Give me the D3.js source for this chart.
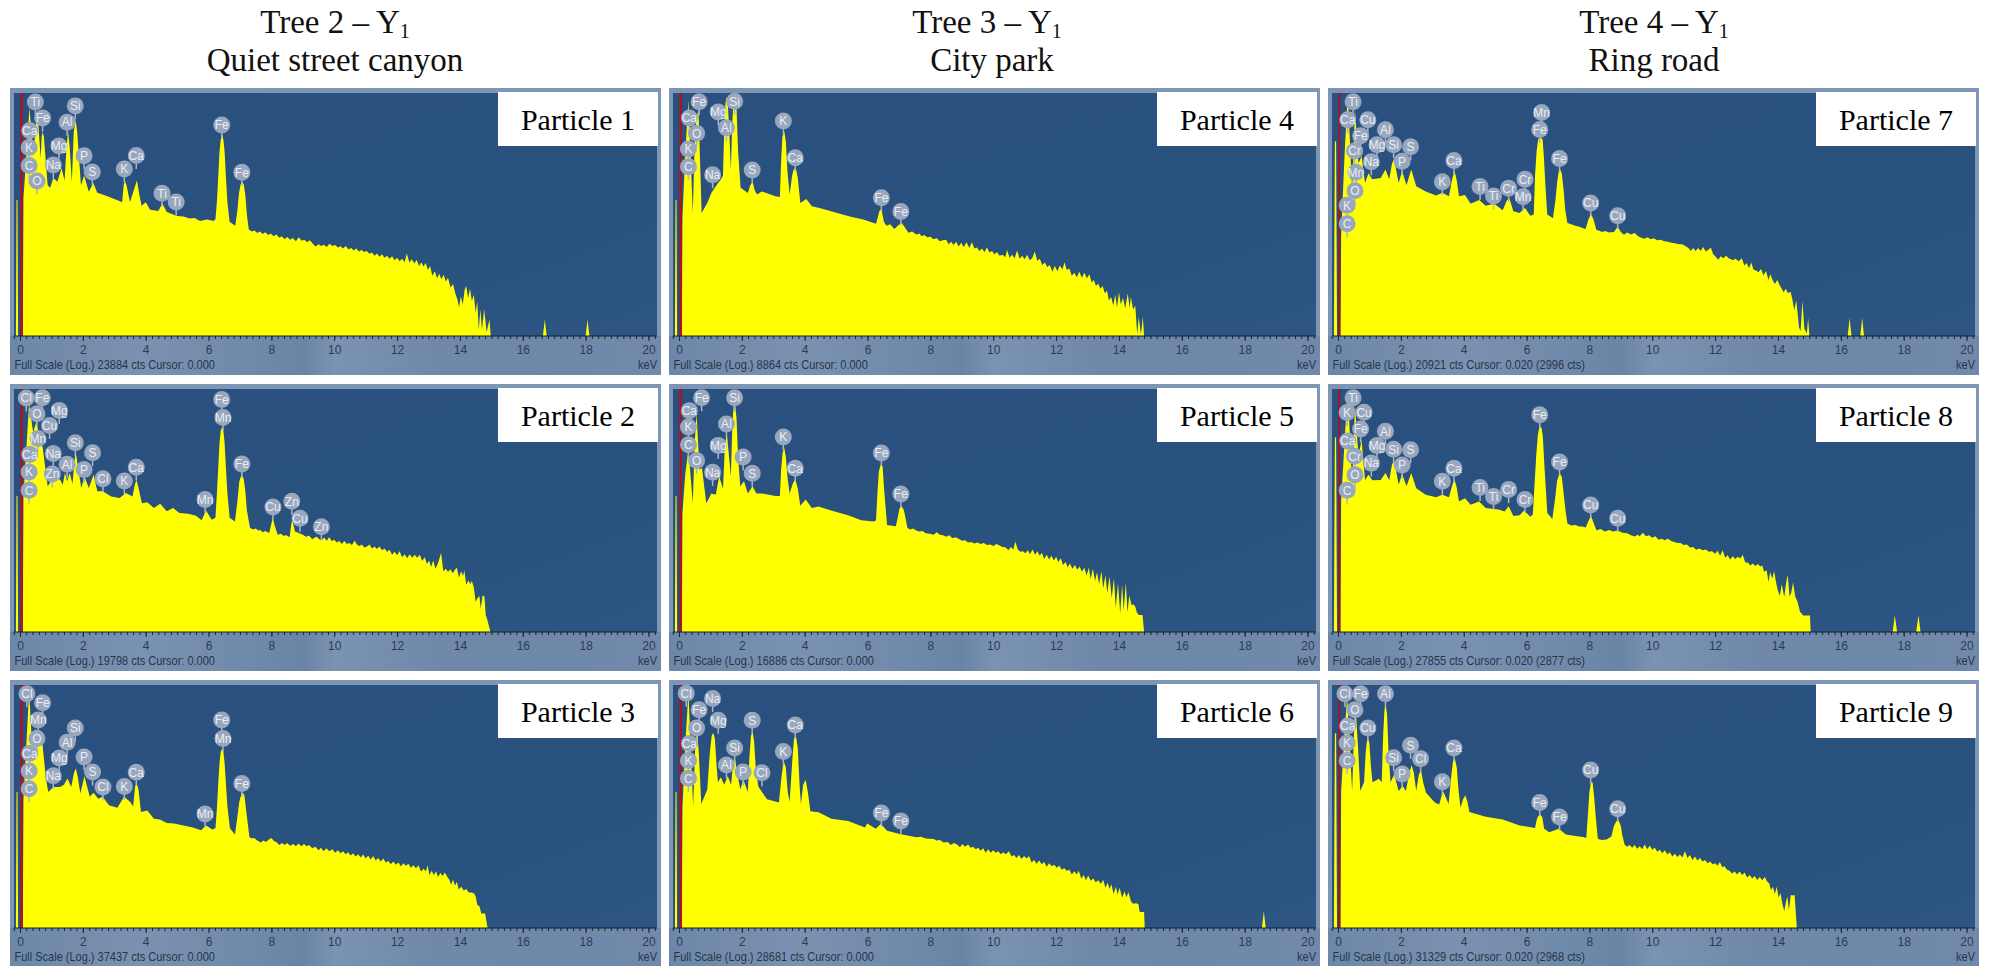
<!DOCTYPE html>
<html>
<head>
<meta charset="utf-8">
<script src="https://cdn.jsdelivr.net/npm/d3@7"></script>
<style>
  body { margin: 0; background: #fff; }
  svg { display: block; }
</style>
</head>
<body>
<div id="chart"></div>
<script>
const width = 1989;
const height = 966;

// site headings, one per column
const treeTitles = ["Tree 2 – Y", "Tree 3 – Y", "Tree 4 – Y"];
const siteTitles = ["Quiet street canyon", "City park", "Ring road"];

const particleNames = ["Particle 1", "Particle 2", "Particle 3", "Particle 4", "Particle 5", "Particle 6", "Particle 7", "Particle 8", "Particle 9"];

const footerTexts = [
  "Full Scale (Log.) 23884 cts Cursor: 0.000",
  "Full Scale (Log.) 19798 cts Cursor: 0.000",
  "Full Scale (Log.) 37437 cts Cursor: 0.000",
  "Full Scale (Log.) 8864 cts Cursor: 0.000",
  "Full Scale (Log.) 16886 cts Cursor: 0.000",
  "Full Scale (Log.) 28681 cts Cursor: 0.000",
  "Full Scale (Log.) 20921 cts Cursor: 0.020  (2996 cts)",
  "Full Scale (Log.) 27855 cts Cursor: 0.020  (2877 cts)",
  "Full Scale (Log.) 31329 cts Cursor: 0.020  (2968 cts)"
];

const keVTicks = [0, 2, 4, 6, 8, 10, 12, 14, 16, 18, 20];
const minorTicks = d3.range(-1, 102).map(i => i / 5);

// spectra: [keV, height on the log display, 0-100 of the plot]
const spectrum1 = [[-0.13,0],[-0.11,56],[-0.08,56],[-0.06,0],[0.09,0],[0.11,57],[0.21,75],[0.3,94],[0.42,74],[0.55,93],[0.66,73],[0.69,82],[0.72,84],[0.76,82],[0.88,62],[0.96,61],[1.06,65],[1.19,63.5],[1.32,69],[1.42,64],[1.48,78],[1.53,84],[1.58,78],[1.65,63.5],[1.71,84],[1.77,89],[1.82,84],[1.94,62],[2.04,66],[2.19,59.4],[2.33,63],[2.46,59],[2.76,57.6],[3.18,55.5],[3.25,55],[3.3,62],[3.34,63.8],[3.39,62],[3.5,55],[3.62,60],[3.72,64],[3.8,58],[3.87,53.6],[4,55],[4.14,52],[4.4,51.4],[4.53,54.5],[4.67,51],[5,49.4],[5.2,49.2],[5.4,48.4],[5.55,48.6],[5.73,47.3],[5.95,47.9],[6.16,47.3],[6.22,48],[6.27,56],[6.31,66],[6.35,76],[6.39,81],[6.43,83],[6.47,81],[6.51,76],[6.55,66],[6.6,55],[6.67,47],[6.85,45.4],[6.92,52],[6.97,59],[7.02,62.5],[7.07,63.4],[7.12,62.5],[7.17,58],[7.22,50],[7.28,43.8],[7.3,43.6],[7.38,43],[7.46,43.4],[7.55,42.4],[7.63,43],[7.72,42],[7.8,42.7],[7.9,41.6],[7.98,42.2],[8.07,41],[8.16,41.8],[8.25,40.4],[8.33,41],[8.42,39.8],[8.5,40.7],[8.6,39.6],[8.68,40.3],[8.78,39],[8.87,40.6],[8.96,39.2],[9.05,39.6],[9.14,38.6],[9.22,39.4],[9.32,38],[9.4,36.8],[9.5,37.8],[9.58,37],[9.67,37.6],[9.76,36.6],[9.85,38],[9.94,37],[10.03,37.5],[10.12,36.4],[10.2,36.9],[10.28,36],[10.37,37],[10.45,35.6],[10.54,36.2],[10.62,35.2],[10.7,36],[10.78,34.8],[10.87,35.4],[10.95,34.6],[11.03,35],[11.12,33.8],[11.2,34.4],[11.28,33],[11.36,34],[11.44,32.6],[11.52,33.6],[11.6,32.2],[11.68,33],[11.76,31.8],[11.84,32.8],[11.92,31.2],[12,32.2],[12.08,30.8],[12.16,31.8],[12.24,30.4],[12.31,34],[12.39,30.2],[12.47,31.6],[12.55,29.8],[12.62,31.4],[12.7,28.8],[12.77,30.4],[12.84,28.6],[12.91,30],[12.98,27.2],[13.05,28.8],[13.12,24.8],[13.2,26.6],[13.27,23.8],[13.34,25.6],[13.41,23.4],[13.48,25.2],[13.55,22.4],[13.62,24],[13.7,20],[13.78,21.4],[13.85,17.6],[13.92,15],[13.97,11.8],[14.03,16.4],[14.09,13],[14.15,19],[14.2,20.6],[14.26,15.6],[14.32,19.4],[14.38,14.4],[14.44,17],[14.5,9.6],[14.55,14.2],[14.6,2.6],[14.65,11],[14.7,2.6],[14.77,11],[14.85,1.6],[14.94,6.8],[14.98,0],[16.64,0],[16.7,6.8],[16.76,0],[18,0],[18.06,6.8],[18.12,0]];

const spectrum2 = [[-0.13,0],[-0.11,56],[-0.08,56],[-0.06,0],[0.09,0],[0.11,55.8],[0.2,75],[0.29,94],[0.42,82],[0.52,86.7],[0.62,80],[0.72,76],[0.8,68],[0.88,60],[0.99,62],[1.15,64],[1.28,62.6],[1.36,60.6],[1.43,65.4],[1.5,62],[1.58,65.4],[1.67,61],[1.75,72],[1.78,73.7],[1.82,70],[1.95,59.3],[2.05,64],[2.19,59.3],[2.34,64.7],[2.46,57.9],[2.63,57.9],[2.9,55.8],[3.17,55.1],[3.37,57.2],[3.58,55.8],[3.66,61],[3.71,62.3],[3.76,60],[3.88,53],[4.05,53.4],[4.26,51],[4.46,52.8],[4.67,49.7],[4.87,51],[5.07,49],[5.35,48.7],[5.6,47.8],[5.78,46],[5.92,50],[6.1,46.2],[6.22,47],[6.27,58],[6.31,68],[6.35,78],[6.39,83],[6.43,84.4],[6.47,83],[6.51,78],[6.55,68],[6.6,57],[6.67,47],[6.84,45.5],[6.92,54],[6.98,62],[7.03,64],[7.07,64.4],[7.12,63],[7.17,58],[7.22,50],[7.32,42.8],[7.42,42.2],[7.5,42.6],[7.58,41.8],[7.65,42],[7.72,41],[7.8,41.6],[7.93,40.7],[7.99,44],[8.04,47],[8.1,44],[8.2,40],[8.3,40.4],[8.38,39.6],[8.48,39.8],[8.58,39],[8.63,44],[8.66,46.2],[8.75,41.4],[8.85,40.8],[9,40],[9.1,39.2],[9.2,39.6],[9.3,38.2],[9.38,38.9],[9.45,39.2],[9.52,38.2],[9.6,37.8],[9.68,38.9],[9.76,37.6],[9.84,39],[9.92,37.4],[10,38],[10.08,36.8],[10.16,37.4],[10.24,36.2],[10.32,37.4],[10.4,36.2],[10.48,36.6],[10.56,35.8],[10.65,37.6],[10.72,36],[10.8,35.4],[10.88,36],[10.96,34.8],[11.04,35.2],[11.12,36],[11.2,34.4],[11.28,35.2],[11.36,34.2],[11.44,35.2],[11.52,33.6],[11.6,34.4],[11.68,33],[11.76,33.8],[11.84,31.8],[11.92,33],[12,31.6],[12.08,33.2],[12.16,30.8],[12.24,32],[12.32,30.4],[12.4,32],[12.48,30.6],[12.56,31.8],[12.64,30.6],[12.72,31.8],[12.8,29.2],[12.88,30.8],[12.95,28],[13.02,29.4],[13.08,26.8],[13.15,29.4],[13.22,26],[13.3,28.2],[13.4,32.6],[13.47,25],[13.55,26],[13.62,24.8],[13.7,25.8],[13.77,24.2],[13.84,25.6],[13.9,26.4],[13.97,22.4],[14.04,25],[14.1,23],[14.14,25.4],[14.2,19.4],[14.27,21.2],[14.33,19.8],[14.38,21],[14.44,18.4],[14.5,12.4],[14.56,14],[14.62,14.8],[14.66,9.6],[14.72,15],[14.78,14.6],[14.82,7],[14.87,5],[14.97,0]];

const spectrum3 = [[-0.13,0],[-0.11,56],[-0.08,56],[-0.06,0],[0.09,0],[0.11,52.5],[0.2,75],[0.29,97],[0.38,76],[0.5,82],[0.6,78],[0.72,75],[0.82,62],[0.9,56],[1.06,58],[1.27,58],[1.4,59],[1.51,61.5],[1.63,58],[1.72,64],[1.78,65.6],[1.84,62],[1.92,55.3],[2.05,62.4],[2.22,54],[2.34,55.7],[2.49,53.2],[2.63,54],[2.83,50.5],[3.1,49.5],[3.31,54],[3.51,51.9],[3.6,50],[3.66,58],[3.71,59.8],[3.77,57],[3.85,47.7],[4.05,48.4],[4.26,45],[4.45,44.6],[4.67,43.2],[4.9,43],[5.2,42.2],[5.5,41.4],[5.76,40.2],[5.92,42.2],[6.12,40.5],[6.22,41],[6.27,50],[6.31,60],[6.35,68],[6.39,72.6],[6.43,73.8],[6.47,72.6],[6.51,68],[6.55,60],[6.6,50],[6.68,41],[6.84,38.5],[6.92,46],[6.98,52],[7.04,55],[7.09,55.7],[7.14,54.6],[7.2,48],[7.3,37.4],[7.38,36.8],[7.45,37],[7.55,36],[7.66,35.2],[7.75,36],[7.83,35.4],[7.92,36.4],[8,37],[8.08,35.8],[8.16,35.4],[8.25,34.2],[8.34,35],[8.42,34.2],[8.5,35],[8.6,33.8],[8.7,34.6],[8.78,33.6],[8.86,34.8],[8.95,33.6],[9.04,34.6],[9.12,33.6],[9.2,34.2],[9.3,32.8],[9.4,33.4],[9.5,32],[9.58,33],[9.66,31.6],[9.75,32.8],[9.84,31.6],[9.94,32.4],[10.03,31],[10.12,32],[10.2,30.8],[10.28,31.6],[10.36,30.4],[10.44,31.2],[10.52,29.8],[10.6,30.8],[10.68,29.4],[10.76,30.4],[10.84,29],[10.92,30.2],[11,28.6],[11.08,29.8],[11.16,28.2],[11.24,29.6],[11.32,27.8],[11.4,28.8],[11.48,27.4],[11.56,28.6],[11.64,27],[11.72,27.6],[11.8,26.2],[11.88,27.4],[11.96,26],[12.04,27],[12.12,25.4],[12.2,26.6],[12.28,25.6],[12.36,26.4],[12.44,24.8],[12.52,25.8],[12.6,24.6],[12.68,25.8],[12.76,23.2],[12.84,24.4],[12.92,23.4],[12.97,25.8],[13.03,21.8],[13.1,23.6],[13.17,21.8],[13.24,23.4],[13.3,21],[13.38,22.6],[13.45,21.4],[13.52,22.8],[13.6,21],[13.66,20],[13.72,17.8],[13.78,20],[13.84,17.4],[13.9,19],[13.96,15.8],[14.04,17],[14.12,15.4],[14.2,16],[14.28,14.6],[14.36,14.6],[14.45,14.2],[14.5,13],[14.55,9.6],[14.62,9],[14.68,6],[14.8,6],[14.88,0]];

const spectrum4 = [[-0.13,0],[-0.11,56],[-0.08,56],[-0.06,0],[0.09,0],[0.11,49],[0.2,75],[0.3,97],[0.44,50.6],[0.5,80],[0.56,90],[0.62,93],[0.67,72],[0.72,50.6],[0.9,54.7],[1.03,58.8],[1.24,63],[1.33,64.3],[1.4,66],[1.44,85],[1.48,96],[1.52,98.6],[1.56,94],[1.6,84],[1.65,68.4],[1.69,86],[1.73,96],[1.78,98.6],[1.83,94],[1.88,76],[1.96,61],[2.19,58.8],[2.27,62],[2.34,63.6],[2.41,60],[2.48,58.2],[2.64,59.5],[3.07,57.5],[3.21,57.2],[3.25,72],[3.29,82],[3.35,84.2],[3.4,80],[3.45,68],[3.52,58.2],[3.6,66],[3.65,68.6],[3.72,69],[3.78,65],[3.86,54.7],[4.05,56.4],[4.23,53.4],[4.5,52.6],[4.84,51.3],[5.2,50],[5.5,49],[5.86,47.9],[6.27,46.2],[6.38,51.4],[6.44,52.4],[6.52,47],[6.6,45.4],[6.72,46],[6.85,44],[7.0,45.8],[7.09,46.5],[7.3,42.5],[7.42,43],[7.55,41.8],[7.65,42.2],[7.72,41],[7.8,41.6],[7.9,40.6],[8,40.8],[8.1,39.8],[8.2,40.2],[8.3,39],[8.4,39.4],[8.5,39.6],[8.58,37.8],[8.66,38.8],[8.74,37.4],[8.82,38.8],[8.9,36.8],[8.98,38.4],[9.06,36.6],[9.15,38.6],[9.24,36.2],[9.32,38.6],[9.4,36],[9.48,36.4],[9.56,35],[9.64,36],[9.72,34.6],[9.8,36.4],[9.88,34.4],[9.96,35],[10.04,33.6],[10.12,34.6],[10.2,33],[10.3,33.4],[10.38,32.4],[10.44,35.4],[10.52,32.2],[10.6,33.4],[10.68,32],[10.76,35.2],[10.84,31.8],[10.92,33],[11,31.6],[11.08,33.4],[11.16,31.2],[11.24,32],[11.32,34.8],[11.4,31],[11.48,31.8],[11.56,29.2],[11.64,30.2],[11.72,28.4],[11.8,29.2],[11.88,26.4],[11.96,28.8],[12.04,26.6],[12.12,29],[12.2,27.4],[12.27,30.4],[12.34,27.2],[12.42,27.8],[12.5,24.8],[12.58,26],[12.66,24.2],[12.74,26.4],[12.82,24],[12.9,26],[12.98,23.8],[13.06,25.4],[13.13,22],[13.2,23],[13.27,20.6],[13.34,21.6],[13.41,19.4],[13.48,20.6],[13.55,17.6],[13.62,18.6],[13.68,14.6],[13.75,16],[13.82,12.6],[13.88,17],[13.94,11.8],[14,18],[14.06,13],[14.13,15.6],[14.2,11.4],[14.28,17.6],[14.34,11.6],[14.38,16],[14.45,11],[14.52,12.4],[14.58,0.6],[14.63,7.8],[14.7,0.6],[14.76,7.8],[14.8,0]];

const spectrum5 = [[-0.13,0],[-0.11,56],[-0.08,56],[-0.06,0],[0.09,0],[0.11,49],[0.2,65],[0.3,75],[0.44,53],[0.5,78],[0.56,90],[0.65,66.8],[0.73,67.5],[0.87,53],[1.03,57],[1.17,56.5],[1.28,64],[1.4,59],[1.46,76],[1.52,82],[1.58,74],[1.65,64],[1.7,86],[1.74,93],[1.78,94],[1.83,88],[1.88,72],[1.95,60],[2.07,62],[2.19,57],[2.34,60],[2.46,57],[2.65,57],[3.07,56],[3.21,56],[3.25,67],[3.3,74],[3.35,75.7],[3.4,72],[3.45,64],[3.52,57],[3.62,61],[3.7,63],[3.78,59],[3.86,52],[4.03,54.5],[4.23,51],[4.44,51.6],[4.84,50],[5.38,48],[5.8,46],[6.2,45.5],[6.27,46],[6.31,56],[6.36,66],[6.41,68.6],[6.44,69],[6.48,68],[6.52,60],[6.62,44],[6.9,43.5],[6.96,47],[7.02,51],[7.09,51.7],[7.16,50],[7.27,42.8],[7.36,42.2],[7.45,42.6],[7.55,41.8],[7.65,41.4],[7.75,41.6],[7.85,40.6],[7.98,40.4],[8.1,40],[8.2,41],[8.3,40],[8.4,39.8],[8.5,39.2],[8.6,39.8],[8.7,38.6],[8.8,39],[8.9,38.4],[9,37.6],[9.1,37.8],[9.2,36.8],[9.3,37],[9.4,36.4],[9.5,36.8],[9.6,36.2],[9.7,36.6],[9.8,35.8],[9.9,36],[10,35.4],[10.1,36.2],[10.2,35.6],[10.3,35],[10.4,34.8],[10.48,33.6],[10.56,35],[10.64,34],[10.7,37.2],[10.78,34],[10.86,33],[10.94,33.2],[11.02,32.4],[11.1,33.6],[11.17,32],[11.25,34],[11.33,31.8],[11.4,33.2],[11.48,31.4],[11.55,32.6],[11.62,30],[11.7,31.8],[11.78,29.8],[11.85,31.4],[11.93,29.4],[12,31],[12.07,28.8],[12.15,30.4],[12.22,27.6],[12.3,28.8],[12.37,26.6],[12.44,28.2],[12.52,26],[12.6,27.6],[12.67,25.6],[12.75,27],[12.82,24.8],[12.9,26.4],[12.97,23.2],[13.04,26.4],[13.1,21.8],[13.17,26],[13.24,21],[13.3,24.6],[13.37,19.8],[13.44,25],[13.5,18],[13.57,23.4],[13.63,16],[13.7,22.8],[13.77,14],[13.84,22],[13.9,10],[13.97,20],[14.04,7.6],[14.1,19.4],[14.15,9],[14.22,20.4],[14.27,8],[14.33,15],[14.4,11],[14.46,11.4],[14.52,10.4],[14.57,8],[14.63,7],[14.75,7],[14.8,0]];

const spectrum6 = [[-0.13,0],[-0.11,56],[-0.08,56],[-0.06,0],[0.09,0],[0.11,49.5],[0.2,75],[0.3,97],[0.45,50],[0.52,76],[0.57,83],[0.63,72],[0.71,51],[0.9,57],[0.98,72],[1.04,79],[1.09,80.4],[1.14,78],[1.2,66],[1.24,60],[1.33,62],[1.44,59],[1.55,62.5],[1.66,59],[1.72,68],[1.78,70],[1.85,64],[1.95,57],[2.05,61],[2.19,56],[2.24,70],[2.29,79],[2.34,81],[2.39,77],[2.45,64],[2.53,58],[2.8,53],[3.18,51.6],[3.26,62],[3.31,67],[3.35,68],[3.4,66],[3.46,56],[3.52,52],[3.6,68],[3.66,78],[3.72,79],[3.78,74],[3.84,58],[3.88,51],[3.95,59],[4.03,61],[4.1,56],[4.18,48],[4.44,47.6],[4.85,45],[5.38,44],[5.92,41.4],[5.99,43],[6.26,40.8],[6.42,42.8],[6.62,40],[7.02,38.7],[7.3,38],[7.56,37.3],[7.7,37.6],[7.85,36.8],[8.1,36.6],[8.2,36],[8.3,36.2],[8.42,35.2],[8.55,35.4],[8.65,34.2],[8.75,35],[8.85,34.4],[8.94,33.2],[9.02,34.6],[9.1,33.4],[9.2,34.4],[9.28,33],[9.36,33.4],[9.44,32.4],[9.52,33],[9.6,31.8],[9.68,32.8],[9.76,31],[9.84,32.4],[9.92,31],[10,32],[10.08,31],[10.16,31.6],[10.24,30.4],[10.32,31.2],[10.4,30.4],[10.5,31.6],[10.58,29.4],[10.66,30],[10.74,28.8],[10.82,30],[10.9,28.4],[10.98,29.6],[11.06,28.6],[11.14,29.6],[11.22,27],[11.3,28],[11.38,26.4],[11.46,27.8],[11.54,26.2],[11.62,27.2],[11.7,25.2],[11.78,26.6],[11.86,25.4],[11.94,26],[12.02,24.8],[12.1,25.6],[12.18,24],[12.26,24.6],[12.34,23.6],[12.42,24],[12.5,22],[12.58,23.4],[12.66,22],[12.72,23.6],[12.8,20.4],[12.88,21.8],[12.95,19.6],[13.02,21.6],[13.1,19.4],[13.18,20.4],[13.26,18.8],[13.34,19.6],[13.42,18.2],[13.5,19.8],[13.57,16.6],[13.64,18.6],[13.7,16],[13.76,18],[13.83,14],[13.9,17],[13.96,13.8],[14.02,16.6],[14.1,12.6],[14.18,15],[14.24,12.6],[14.3,14.8],[14.38,11],[14.45,10],[14.55,10.2],[14.62,9.8],[14.66,6.6],[14.8,6.6],[14.82,0],[18.55,0],[18.61,6.9],[18.67,0]];

const spectrum7 = [[-0.13,0],[-0.1,80],[-0.06,80],[-0.03,0],[0.08,0],[0.1,41],[0.2,72],[0.31,100],[0.45,60],[0.54,93],[0.65,71],[0.75,74],[0.86,63],[0.97,67],[1.09,64.5],[1.36,65],[1.51,68.5],[1.63,64.5],[1.72,71],[1.78,72.6],[1.84,69],[1.93,63],[2.04,67.8],[2.18,62],[2.33,68.5],[2.49,61.6],[2.79,59.5],[3.12,57.8],[3.32,59],[3.53,57.5],[3.64,65],[3.71,67.8],[3.78,64],[3.85,57.5],[4.04,58],[4.22,54.4],[4.49,56],[4.7,53.6],[4.97,54.4],[5.24,51.7],[5.38,56],[5.46,56.4],[5.58,51.3],[5.78,50.6],[5.95,52.7],[6.12,49.5],[6.23,50],[6.27,66],[6.32,76],[6.37,81],[6.44,81.6],[6.51,81],[6.55,74],[6.6,62],[6.66,50],[6.84,48.5],[6.92,56],[6.98,64],[7.03,68],[7.07,68.5],[7.12,67],[7.18,60],[7.23,52],[7.3,46.5],[7.42,46],[7.55,45.4],[7.68,45],[7.78,44.4],[7.88,44],[7.97,48],[8.05,50.2],[8.13,48],[8.22,43.6],[8.3,43.4],[8.4,42.8],[8.5,43.2],[8.63,42.6],[8.78,42.8],[8.9,45],[9,42.8],[9.1,41.7],[9.2,42.6],[9.32,41.8],[9.44,42.4],[9.55,41],[9.65,40.4],[9.75,40],[9.85,40.6],[9.95,39.8],[10.05,40.2],[10.15,39.4],[10.27,39.6],[10.38,39],[10.5,38.8],[10.6,38.4],[10.72,38.2],[10.85,37.8],[10.95,37.8],[11.05,37],[11.15,36.2],[11.23,35],[11.3,36.2],[11.38,35],[11.46,36.2],[11.54,35],[11.62,36.6],[11.7,34.8],[11.78,35.4],[11.86,36.4],[11.94,33.6],[12.02,32.6],[12.1,31.4],[12.18,32.8],[12.26,32],[12.35,33],[12.43,32],[12.5,31.6],[12.57,31.2],[12.65,31.8],[12.75,30.8],[12.85,32],[12.93,29],[13,30],[13.08,28],[13.15,30.2],[13.22,27.4],[13.3,27],[13.38,26.2],[13.46,27.6],[13.54,25],[13.62,26.8],[13.7,23],[13.76,25.4],[13.82,23.4],[13.9,21.4],[13.98,23],[14.05,21],[14.12,19.4],[14.18,18],[14.25,19.4],[14.32,17.6],[14.4,18.2],[14.46,15],[14.52,10.6],[14.58,14.6],[14.63,9],[14.67,3.6],[14.72,2],[14.78,14.4],[14.84,3],[14.92,1],[14.96,7.4],[15,0],[16.22,0],[16.28,7.4],[16.34,0],[16.62,0],[16.68,7.4],[16.74,0]];

const spectrum8 = [[-0.13,0],[-0.1,80],[-0.06,80],[-0.03,0],[0.08,0],[0.1,54],[0.2,76],[0.31,100],[0.45,60.4],[0.54,93.5],[0.65,72],[0.75,79],[0.86,62.6],[0.97,64.7],[1.09,62.4],[1.36,62.6],[1.51,65.4],[1.63,62.4],[1.72,69],[1.78,70.2],[1.84,67],[1.93,60.6],[2.04,65],[2.18,60],[2.33,65.4],[2.49,59.2],[2.79,56.5],[3.12,55.5],[3.32,56.5],[3.53,55.5],[3.65,61],[3.71,62.6],[3.77,60],[3.85,53.7],[4.04,55],[4.22,52.4],[4.49,53.7],[4.7,51],[5.1,50.4],[5.3,49.6],[5.43,51.7],[5.58,47.7],[5.78,48],[5.92,50],[6.12,47.4],[6.2,48.4],[6.26,62],[6.31,73],[6.36,81],[6.4,84],[6.44,84.6],[6.48,84],[6.52,80],[6.57,68],[6.66,49],[6.82,46.5],[6.91,55],[6.97,62],[7.03,64.6],[7.07,64.9],[7.12,64],[7.18,57],[7.24,50],[7.3,44.6],[7.42,43.8],[7.55,44],[7.68,43.4],[7.78,43.4],[7.88,43],[7.97,45.6],[8.05,47.8],[8.13,45],[8.23,41.8],[8.35,42.4],[8.5,41.4],[8.63,42],[8.75,41.4],[8.9,41.8],[9.05,40.8],[9.2,40.6],[9.32,39.8],[9.45,39.3],[9.53,40],[9.6,39.4],[9.7,40.8],[9.8,39.4],[9.9,39.8],[10,38.8],[10.1,39.4],[10.2,38],[10.3,38.4],[10.4,37.8],[10.5,38.4],[10.6,37.4],[10.7,37],[10.8,36.6],[10.9,36.6],[11,35.8],[11.1,36],[11.2,34.8],[11.3,35],[11.4,33.8],[11.5,34.4],[11.6,33.6],[11.7,34],[11.8,33],[11.9,33.2],[12,32.2],[12.08,33.4],[12.16,31.4],[12.24,33.6],[12.32,30.6],[12.4,31.6],[12.48,29.8],[12.56,31.2],[12.64,30],[12.72,31],[12.8,30.2],[12.88,31.8],[12.96,28.6],[13.04,28.6],[13.12,27.4],[13.2,28.2],[13.28,27.2],[13.36,28],[13.44,27],[13.5,27.4],[13.56,24.8],[13.64,25.4],[13.7,20.6],[13.75,24.6],[13.82,22],[13.88,25],[13.94,20.4],[14,17],[14.06,14.8],[14.12,19.6],[14.2,14.4],[14.26,20.2],[14.31,23.6],[14.37,14.6],[14.42,16],[14.48,20.4],[14.55,14.6],[14.62,12.6],[14.7,8.4],[14.8,6.8],[15.02,6.8],[15.04,0],[17.65,0],[17.72,6.8],[17.79,0],[18.4,0],[18.47,6.8],[18.54,0]];

const spectrum9 = [[-0.13,0],[-0.1,80],[-0.06,80],[-0.03,0],[0.08,0],[0.1,56.4],[0.2,78],[0.29,95.6],[0.45,56.4],[0.52,84],[0.57,88.6],[0.63,76],[0.71,56.4],[0.83,60],[0.88,72],[0.92,77],[0.96,78],[1,76],[1.05,66],[1.1,60],[1.3,61.4],[1.39,60],[1.44,80],[1.48,90],[1.52,92],[1.56,88],[1.61,72],[1.67,60],[1.79,63.2],[1.93,56.4],[2.06,58.4],[2.16,56.4],[2.27,64],[2.34,67],[2.41,64],[2.49,56.4],[2.57,63],[2.64,65],[2.71,60],[2.8,55.7],[3.08,51.6],[3.22,50.8],[3.31,55],[3.36,56],[3.42,54],[3.52,51],[3.6,62],[3.66,68.6],[3.72,69.7],[3.78,66],[3.84,56],[3.9,49.5],[3.98,53],[4.05,54.6],[4.12,52],[4.18,47.7],[4.7,45.8],[5.24,44.7],[5.78,42.2],[6.27,41.2],[6.33,45],[6.42,47],[6.5,45.6],[6.56,40.8],[6.72,39.4],[7.03,40.8],[7.25,38.5],[7.5,38],[7.79,37.5],[7.9,37],[7.95,46],[8,56],[8.05,60],[8.1,60],[8.15,54],[8.2,46],[8.27,36.6],[8.4,36.2],[8.55,36.4],[8.7,37.7],[8.78,42],[8.86,44],[8.93,44.3],[9,42],[9.05,38],[9.12,34.4],[9.2,33.4],[9.28,34.2],[9.36,33],[9.44,34.2],[9.52,32.6],[9.6,33.6],[9.68,32.4],[9.76,34.4],[9.84,32.4],[9.92,33.8],[10,32.2],[10.08,33],[10.16,31.4],[10.24,32.2],[10.32,30.8],[10.4,32],[10.48,30.2],[10.56,31.2],[10.64,29.4],[10.72,30.6],[10.8,29.2],[10.88,30.2],[10.96,29],[11.04,31.6],[11.12,28.8],[11.2,30],[11.28,28],[11.36,29.4],[11.44,27.8],[11.52,28.8],[11.6,27.4],[11.68,28],[11.76,26.6],[11.84,27.4],[11.92,26.2],[12,26.6],[12.08,25.6],[12.15,27.2],[12.23,25],[12.3,25.4],[12.38,24],[12.46,23.6],[12.54,22.4],[12.62,23.2],[12.7,22],[12.78,23.2],[12.86,21.8],[12.94,22.8],[13.02,20.8],[13.1,21.8],[13.18,20.4],[13.26,21.4],[13.34,19.8],[13.42,21],[13.5,19.6],[13.58,21],[13.66,19],[13.72,18.4],[13.78,15.6],[13.84,17],[13.9,14],[13.96,17],[14.02,12.4],[14.08,14.4],[14.14,10],[14.2,7],[14.26,11],[14.3,13],[14.35,7.4],[14.41,13.6],[14.46,13.4],[14.53,13.6],[14.6,0]];

// element bubbles: [element, keV, height of bubble centre]
const labels1 = [["Ti",.49,96.3],["Fe",.72,89.7],["Ca",.31,84.6],["K",.29,77.6],["C",.29,70.2],["O",.54,63.8],["Si",1.76,94.7],["Al",1.5,88],["Mg",1.24,78.2],["Na",1.06,70.4],["P",2.04,74.2],["S",2.3,67.5],["K",3.32,68.7],["Ca",3.7,74.3],["Ti",4.52,58.7],["Ti",4.97,55.1],["Fe",6.42,86.8],["Fe",7.06,67.4]];
const labels2 = [["Cl",.2,96.3],["Fe",.71,96.4],["O",.54,89.8],["Mg",1.25,91.2],["Cu",.94,85],["Mn",.57,79.6],["Si",1.76,77.9],["Ca",.31,73.1],["Na",1.06,73.5],["S",2.31,73.8],["Al",1.5,69],["P",2.04,66.9],["K",.29,65.8],["Zn",1.03,65],["Cl",2.64,63.1],["Ca",3.7,67.8],["K",3.32,62.1],["C",.29,58.3],["Fe",6.42,95.7],["Mn",6.46,88.3],["Fe",7.06,69.1],["Mn",5.89,54.5],["Cu",8.05,51.4],["Zn",8.65,53.8],["Cu",8.91,46.8],["Zn",9.59,43.3]];
const labels3 = [["Cl",.22,96.4],["Fe",.72,92.7],["Mn",.58,85.6],["O",.54,78],["Si",1.76,82.3],["Al",1.5,76.4],["Ca",.31,71.9],["Mg",1.25,70],["P",2.04,70.4],["K",.29,64.6],["S",2.31,64.2],["Na",1.06,62.7],["C",.29,57.3],["Cl",2.64,58],["K",3.32,58.2],["Ca",3.7,64.1],["Fe",6.42,85.6],["Mn",6.46,78],["Fe",7.06,59.5],["Mn",5.89,46.9]];
const labels4 = [["Fe",.64,96.4],["Si",1.77,96.6],["Mg",1.25,92.2],["Ca",.33,89.7],["Al",1.51,85.7],["O",.56,83.4],["K",3.32,88.5],["K",.3,77],["Ca",3.7,73.4],["C",.3,69.7],["S",2.33,68.3],["Na",1.07,66.4],["Fe",6.44,56.9],["Fe",7.06,51.2]];
const labels5 = [["Fe",.72,96.4],["Si",1.77,96.4],["Ca",.33,91.1],["K",.3,84.4],["Al",1.51,85.6],["K",3.32,80.2],["C",.3,77.1],["Mg",1.25,76.8],["Fe",6.44,73.7],["P",2.04,72],["O",.56,70.6],["Ca",3.7,67.4],["Na",1.07,65.7],["S",2.33,65.3],["Fe",7.06,56.8]];
const labels6 = [["Cl",.23,96.6],["Na",1.07,94.4],["Fe",.64,89.8],["Mg",1.25,85.5],["S",2.33,85.5],["Ca",3.7,83.5],["O",.56,82.3],["Ca",.33,75.9],["Si",1.77,74.1],["K",3.32,72.6],["K",.3,68.9],["Al",1.51,67.1],["Cl",2.64,63.9],["P",2.04,64.2],["C",.3,61.6],["Fe",6.44,47.3],["Fe",7.06,44]];
const labels7 = [["Ti",.48,96.4],["Mn",6.48,92],["Ca",.31,89],["Cu",.95,89],["Al",1.51,84.9],["Fe",6.42,85],["Fe",.72,82.4],["Mg",1.24,78.7],["Si",1.77,78.7],["S",2.31,77.9],["Cr",.53,76.1],["Fe",7.05,73],["Ca",3.69,72.2],["P",2.04,71.9],["Na",1.06,71.7],["Mn",.57,67.4],["K",3.32,63.5],["Cr",5.95,64.5],["Ti",4.52,61.5],["Cr",5.43,60.8],["Ti",4.95,57.6],["Mn",5.89,57.3],["O",.54,59.8],["K",.29,53.8],["Cu",8.04,54.7],["Cu",8.9,49.5],["C",.29,46.2]];
const labels8 = [["Ti",.48,96.4],["K",.29,90.3],["Cu",.83,90.4],["Fe",6.42,89.4],["Fe",.72,83.5],["Al",1.51,82.6],["Ca",.31,78.6],["Mg",1.24,76.7],["Si",1.77,75.2],["S",2.31,75],["Cr",.53,72.3],["Fe",7.05,70],["P",2.04,68.7],["Na",1.06,69.5],["Ca",3.69,67.4],["O",.54,64.7],["K",3.32,62],["Ti",4.52,59.5],["Cr",5.43,58.6],["C",.29,58.3],["Ti",4.95,55.8],["Cr",5.95,54.5],["Cu",8.04,52.3],["Cu",8.9,46.8]];
const labels9 = [["Cl",.22,96.4],["Fe",.72,96.4],["Al",1.51,96.4],["O",.54,89.8],["Ca",.31,83.1],["Cu",.95,82.3],["K",.29,76.1],["S",2.31,75.2],["Ca",3.69,74.1],["Si",1.77,70.1],["Cl",2.63,69.7],["C",.29,68.9],["P",2.04,63.4],["K",3.32,60.2],["Cu",8.04,65],["Fe",6.42,51.6],["Cu",8.9,49.1],["Fe",7.05,45.7]];

const spectra = [spectrum1, spectrum2, spectrum3, spectrum4, spectrum5, spectrum6, spectrum7, spectrum8, spectrum9];
const bubbles = [labels1, labels2, labels3, labels4, labels5, labels6, labels7, labels8, labels9];

const colLeft = [10, 669, 1328];
const rowTop = [88, 384, 680];
const panelW = 651;
const panelH = 287;
const baseline = 248;   // axis line, measured from panel top
const plotTop = 5;
const condense = 0.88;  // the source's small labels are narrower than Liberation Sans

const sans = "'Liberation Sans', Arial, sans-serif";
const serif = "'Liberation Serif', 'Times New Roman', serif";

const svg = d3.select("#chart").append("svg")
  .attr("width", width)
  .attr("height", height);

const defs = svg.append("defs");

const plotGrad = defs.append("linearGradient").attr("id", "plotBg")
  .attr("x1", 0).attr("y1", 0).attr("x2", 1).attr("y2", 1);
plotGrad.append("stop").attr("offset", "0%").attr("stop-color", "#29507e");
plotGrad.append("stop").attr("offset", "70%").attr("stop-color", "#2a527f");
plotGrad.append("stop").attr("offset", "100%").attr("stop-color", "#2d5684");

const stripGrad = defs.append("linearGradient").attr("id", "stripBg");
[["0%", "#6d87a8"], ["20%", "#7a92b1"], ["38%", "#6f89aa"], ["45%", "#6a84a6"], ["50%", "#7b93b2"], ["65%", "#7089aa"], ["80%", "#6e88a9"], ["100%", "#718aab"]]
  .forEach(s => stripGrad.append("stop").attr("offset", s[0]).attr("stop-color", s[1]));

// the source is a soft raster, so the marks get a slight blur
defs.append("filter").attr("id", "soft")
  .attr("x", "-2%").attr("y", "-2%").attr("width", "104%").attr("height", "104%")
  .append("feGaussianBlur").attr("stdDeviation", 0.5);

// headings
treeTitles.forEach((t, i) => {
  const head = svg.append("text")
    .attr("x", [335, 987, 1654][i])
    .attr("y", 33)
    .attr("text-anchor", "middle")
    .attr("font-family", serif)
    .attr("font-size", 33)
    .attr("fill", "#111");
  head.append("tspan").text(t);
  head.append("tspan").attr("font-size", 20).attr("dy", 5).text("1");
  svg.append("text")
    .attr("x", [335, 992, 1654][i])
    .attr("y", 71)
    .attr("text-anchor", "middle")
    .attr("font-family", serif)
    .attr("font-size", 33)
    .attr("fill", "#111")
    .text(siteTitles[i]);
});

spectra.forEach((spectrum, idx) => {
  const col = Math.floor(idx / 3);
  const row = idx % 3;
  const g = svg.append("g").attr("transform", `translate(${colLeft[col]},${rowTop[row]})`);

  const x = d3.scaleLinear().domain([0, 20]).range([10, 638.5]);
  const y = d3.scaleLinear().domain([0, 100]).range([baseline, baseline - 243]);

  g.append("rect").attr("width", panelW).attr("height", panelH).attr("fill", "#7e96b5");
  g.append("rect").attr("y", baseline).attr("width", panelW).attr("height", panelH - baseline).attr("fill", "url(#stripBg)");
  g.append("rect").attr("x", 4).attr("y", plotTop).attr("width", panelW - 8).attr("height", baseline - plotTop).attr("fill", "url(#plotBg)");

  const area = d3.area()
    .x(d => x(d[0]))
    .y0(y(0))
    .y1(d => y(d[1]));

  g.append("path")
    .datum(spectrum)
    .attr("fill", "#ffff00")
    .attr("filter", "url(#soft)")
    .attr("d", area);

  // cursor line at the start of the scale
  g.append("line")
    .attr("x1", x(col === 2 ? 0.04 : 0.05)).attr("x2", x(col === 2 ? 0.04 : 0.05))
    .attr("y1", plotTop).attr("y2", baseline)
    .attr("stroke", "#a81423")
    .attr("stroke-width", col === 2 ? 2 : 2.6);

  // axis
  const minor = d3.axisBottom(x).tickValues(minorTicks).tickSize(3).tickFormat("");
  const axisG = g.append("g").attr("transform", `translate(0,${baseline})`).call(minor);
  axisG.select(".domain").remove();
  axisG.selectAll("line").attr("stroke", "#1b2430");
  g.append("line").attr("x1", 4).attr("x2", panelW - 4).attr("y1", baseline).attr("y2", baseline).attr("stroke", "#16202c").attr("stroke-width", 1);

  const major = d3.axisBottom(x).tickValues(keVTicks).tickSize(5).tickPadding(4).tickFormat(d3.format("d"));
  const majorG = g.append("g").attr("transform", `translate(0,${baseline})`).call(major);
  majorG.select(".domain").remove();
  majorG.selectAll("line").attr("stroke", "#1b2430");
  majorG.selectAll("text")
    .attr("font-family", sans)
    .attr("font-size", 12)
    .attr("fill", "#2c3b51");

  g.append("text")
    .attr("transform", `translate(4.5,${baseline + 33}) scale(${condense},1)`)
    .attr("font-family", sans)
    .attr("font-size", 12.5)
    .attr("fill", "#26354a")
    .text(footerTexts[idx]);

  g.append("text")
    .attr("transform", `translate(${panelW - 4},${baseline + 33}) scale(${condense},1)`)
    .attr("text-anchor", "end")
    .attr("font-family", sans)
    .attr("font-size", 12.5)
    .attr("fill", "#26354a")
    .text("keV");

  // element bubbles
  const bub = g.selectAll(".bubble")
    .data(bubbles[idx])
    .join("g")
    .attr("class", "bubble")
    .attr("transform", d => `translate(${x(d[1])},${y(d[2])})`);

  bub.append("line")
    .attr("y1", 6).attr("y2", 13.5)
    .attr("stroke", "#a9b6ca")
    .attr("stroke-width", 1.5);

  bub.append("circle")
    .attr("r", 8.5)
    .attr("fill", "#98a7be")
    .attr("filter", "url(#soft)");

  bub.append("text")
    .attr("text-anchor", "middle")
    .attr("dy", "0.36em")
    .attr("font-family", sans)
    .attr("font-size", 12)
    .attr("fill", "#e9eef4")
    .text(d => d[0]);

  // name box
  g.append("rect")
    .attr("x", 488).attr("y", 4)
    .attr("width", 160).attr("height", 54)
    .attr("fill", "#fff");

  g.append("text")
    .attr("x", 568).attr("y", 42)
    .attr("text-anchor", "middle")
    .attr("font-family", serif)
    .attr("font-size", 30)
    .attr("fill", "#000")
    .text(particleNames[idx]);
});
</script>
</body>
</html>
